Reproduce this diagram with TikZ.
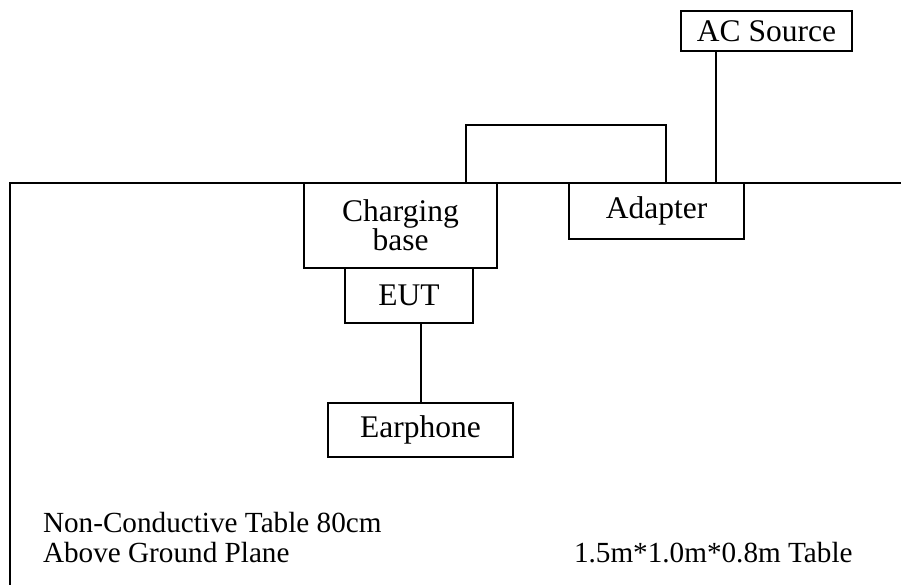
\documentclass[tikz,border=0pt]{standalone}
\usepackage{fontspec}
\setmainfont{Liberation Serif}
\begin{document}
\begin{tikzpicture}[x=1pt,y=-1pt, line width=2pt,
 box/.style={draw, line width=2pt, inner sep=0pt, font=\fontsize{31.5}{29}\selectfont, align=center},
 lbl/.style={inner sep=0pt, anchor=base west, font=\fontsize{29.2}{29}\selectfont}]
\useasboundingbox (0,0) rectangle (901,585);
\draw (901,183) -- (10,183) -- (10,585);
\node[box, minimum width=171pt, minimum height=40pt] (ac) at (766.5,31) {AC Source};
\node[box, minimum width=175pt, minimum height=56pt] (ad) at (656.5,211) {Adapter};
\node[box, minimum width=193pt, minimum height=85pt] (cb) at (400.5,225.5) {Charging\\base};
\node[box, minimum width=128pt, minimum height=55pt] (eut) at (409,295.5) {EUT};
\node[box, minimum width=185pt, minimum height=54pt] (ep) at (420.5,430) {Earphone};
\coordinate (acpt) at (716,183);
\draw (ac.south -| acpt) -- (acpt);
\coordinate (brl) at (466,125);
\coordinate (brr) at (666,125);
\draw (cb.north -| brl) -- (brl) -- (brr) -- (ad.north -| brr);
\draw (eut.south -| ep.north) -- (ep.north);
\node[lbl] (t1) at (42,532.5) {Non-Conductive Table 80cm};
\node[lbl] (t2) at (42,562) {Above Ground Plane};
\node[lbl] (t3) at (573,562.5) {1.5m*1.0m*0.8m Table};
\end{tikzpicture}
\end{document}
